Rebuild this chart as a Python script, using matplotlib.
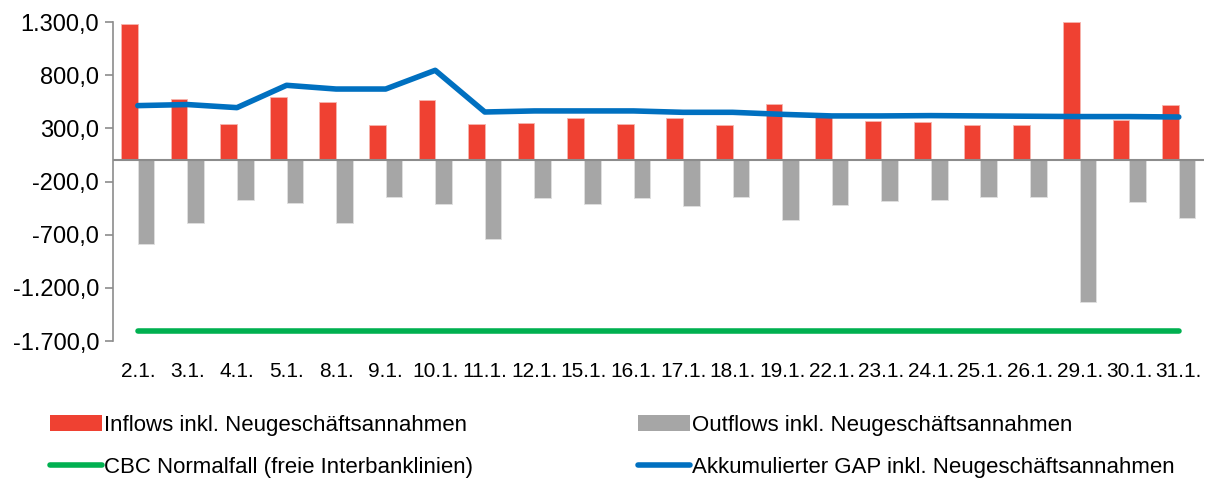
import matplotlib
matplotlib.use("Agg")
import matplotlib.pyplot as plt
import numpy as np
from matplotlib.ticker import FuncFormatter, FixedLocator
from matplotlib.patches import Patch
from matplotlib.lines import Line2D

plt.rcParams['font.family'] = ['Liberation Sans', 'DejaVu Sans']

categories = ["2.1.", "3.1.", "4.1.", "5.1.", "8.1.", "9.1.", "10.1.", "11.1.", "12.1.",
              "15.1.", "16.1.", "17.1.", "18.1.", "19.1.", "22.1.", "23.1.", "24.1.",
              "25.1.", "26.1.", "29.1.", "30.1.", "31.1."]
inflows = [1285, 580, 338, 592, 545, 335, 564, 345, 348, 398, 338, 401, 335, 533,
           405, 367, 357, 329, 329, 1297, 379, 520]
outflows = [-783, -589, -376, -401, -589, -348, -411, -736, -354, -414, -354, -429,
            -348, -564, -420, -385, -370, -342, -342, -1332, -392, -539]
cbc = [-1607] * 22
gap = [514, 524, 495, 705, 670, 670, 846, 454, 464, 464, 464, 451, 451, 432,
       417, 417, 420, 417, 414, 411, 411, 407]
yticks = [1300, 800, 300, -200, -700, -1200, -1700]

labels = ["Inflows inkl. Neugeschäftsannahmen", "Outflows inkl. Neugeschäftsannahmen",
          "CBC Normalfall (freie Interbanklinien)", "Akkumulierter GAP inkl. Neugeschäftsannahmen"]

RED = "#EF4132"
GRAY = "#A6A6A6"
GREEN = "#00B050"
BLUE = "#0070C0"

fig = plt.figure(figsize=(12.05, 4.79), dpi=100)
ax = fig.add_axes([0.0938, 0.288, 0.905, 0.666])

x = np.arange(len(categories))
w = 0.335
ax.bar(x - w / 2, inflows, width=w, color=RED, edgecolor="#F7B5AE", linewidth=0.6, zorder=2)
ax.bar(x + w / 2, outflows, width=w, color=GRAY, edgecolor="#E0E0E0", linewidth=0.6, zorder=2)
ax.axhline(0, color="#8C8C8C", linewidth=1.5, zorder=3)
ax.plot(x, cbc, color=GREEN, linewidth=4, solid_capstyle="round", zorder=4)
ax.plot(x, gap, color=BLUE, linewidth=4, solid_capstyle="round", solid_joinstyle="round", zorder=5)

ax.set_xlim(-0.5, len(categories) - 0.5)
ax.set_ylim(-1700, 1300)
ax.yaxis.set_major_locator(FixedLocator(yticks))


def de_fmt(v, pos):
    s = f"{v:,.1f}"
    return s.replace(",", "X").replace(".", ",").replace("X", ".")


ax.yaxis.set_major_formatter(FuncFormatter(de_fmt))
ax.set_xticks(x)
ax.set_xticklabels(categories)
ax.tick_params(axis="x", length=0, pad=15, labelsize=15)
ax.tick_params(axis="y", length=6, width=1.2, color="#8C8C8C", labelsize=17, pad=4)
for s in ["top", "right", "bottom"]:
    ax.spines[s].set_visible(False)
ax.spines["left"].set_color("#8C8C8C")
ax.spines["left"].set_linewidth(1.2)

handles = [
    Patch(facecolor=RED, edgecolor="none"),
    Patch(facecolor=GRAY, edgecolor="none"),
    Line2D([0], [0], color=GREEN, linewidth=4, solid_capstyle="round"),
    Line2D([0], [0], color=BLUE, linewidth=4, solid_capstyle="round"),
]
positions = [(50 / 1205, 1 - 425 / 479), (638 / 1205, 1 - 425 / 479),
             (50 / 1205, 1 - 467 / 479), (638 / 1205, 1 - 467 / 479)]
for h, lab, pos in zip(handles, labels, positions):
    fig.legend([h], [lab], loc="center left", bbox_to_anchor=pos, frameon=False,
               fontsize=16, handlelength=2.35, handleheight=0.75, handletextpad=0.1,
               borderpad=0, borderaxespad=0)

fig.savefig("out.png", dpi=100)
